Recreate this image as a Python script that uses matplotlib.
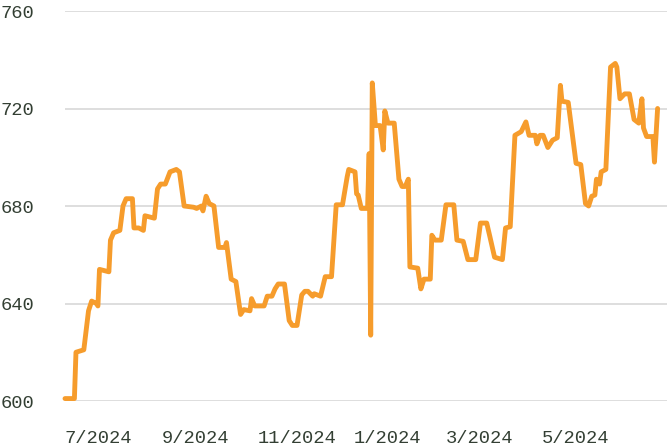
import matplotlib
matplotlib.use("Agg")
import matplotlib.pyplot as plt
import pandas as pd
import numpy as np

# Días desde el 1/7/2024 y valores
dias = [0, 6, 7, 12, 15, 17, 20, 21, 22, 28, 29, 31, 35, 37, 39, 43, 44, 47, 50, 51,
        57, 59, 61, 64, 67, 71, 73, 76, 82, 84, 87, 88, 90, 92, 95, 98, 102, 103, 106, 109,
        112, 114, 118, 119, 121, 127, 129, 132, 134, 136, 140, 143, 145, 148, 151, 153, 155, 158, 159, 161,
        163, 166, 170, 173, 177, 180, 181, 185, 186, 187, 189, 193, 194, 195, 196, 198, 201, 203, 204, 206,
        210, 213, 215, 217, 219, 220, 225, 227, 229, 233, 234, 236, 240, 243, 248, 250, 254, 257, 262, 265,
        269, 271, 274, 279, 281, 284, 287, 291, 294, 296, 300, 301, 303, 305, 308, 311, 314, 316, 317, 321,
        326, 329, 332, 334, 336, 338, 339, 341, 342, 345, 348, 351, 352, 354, 357, 360, 363, 366, 368, 369,
        371, 375, 376, 378]
valores = [601, 601, 620, 621, 637, 641, 640, 639, 654, 653, 666, 669, 670, 680, 683, 683, 671, 671, 670, 676,
           675, 687, 689, 689, 694, 695, 694, 680, 679.5, 679, 680, 678, 684, 681, 680, 663, 663, 665, 650, 649,
           635.5, 637.5, 637, 642, 639, 639, 643, 643, 646, 648, 648, 633, 631, 631, 643.5, 645, 645, 643, 644, 643.5,
           643, 651, 651, 680.5, 680.5, 692, 695, 694, 685, 684.5, 679, 679, 701.5, 627, 730.5, 713, 713, 703, 719, 714,
           714, 691, 688, 688, 691, 655, 654.5, 646, 650, 650, 668, 666, 666, 680.5, 680.5, 666, 665.5, 658, 658, 673,
           673, 667.5, 659, 658, 671, 671.5, 709, 710.5, 714.5, 709, 709, 705.5, 709, 709, 704, 707, 708, 729.5, 723, 722.5,
           697.5, 697, 681, 680, 684, 684.5, 691, 689, 694, 695, 737, 738.5, 737, 724, 726, 726, 715.5, 714, 724, 712,
           708.5, 708.5, 698, 720]

inicio = pd.Timestamp("2024-07-01")
fechas = inicio + pd.to_timedelta(dias, unit="D")

ticks_fechas = pd.to_datetime(["2024-07-01", "2024-09-01", "2024-11-01",
                               "2025-01-01", "2025-03-01", "2025-05-01"])
ticks_etiquetas = ["7/2024", "9/2024", "11/2024", "1/2024", "3/2024", "5/2024"]
ticks_y = [600, 640, 680, 720, 760]

color_texto = "#333f33"

fig = plt.figure(figsize=(6.7, 4.48), dpi=100)
ax = fig.add_axes([65 / 670, 47 / 448, 602 / 670, 390 / 448])

ax.plot(fechas, valores, color="#F69C2C", linewidth=3.5,
        solid_joinstyle="round", solid_capstyle="round", clip_on=False, zorder=3)

ax.set_ylim(600, 760)
ax.set_xlim(inicio, inicio + pd.Timedelta(days=384))

ax.set_yticks(ticks_y)
ax.set_xticks(ticks_fechas)
ax.set_xticklabels(ticks_etiquetas)

for lab in ax.get_xticklabels():
    lab.set_horizontalalignment("left")

ax.tick_params(axis="both", length=0, labelsize=13.5, labelcolor=color_texto)
ax.tick_params(axis="y", pad=22)
ax.tick_params(axis="x", pad=21)
for lab in ax.get_xticklabels() + ax.get_yticklabels():
    lab.set_family("Liberation Mono")

ax.grid(axis="y", color="#d4d4d4", linewidth=1.1)
ax.set_axisbelow(True)
for s in ax.spines.values():
    s.set_visible(False)

plt.savefig("out.png", dpi=100)
plt.close()
